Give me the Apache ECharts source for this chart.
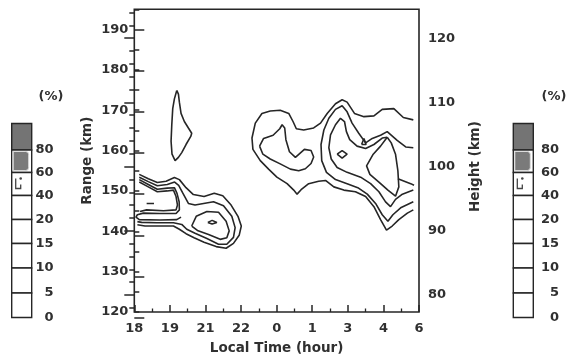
<!DOCTYPE html>
<html><head><meta charset="utf-8">
<script src="https://cdn.jsdelivr.net/npm/echarts@6/dist/echarts.min.js"></script>
<style>html,body{margin:0;padding:0;background:#fff}#c{width:574px;height:360px}</style>
</head><body><div id="c"></div>
<script>
// x values: hours after 18 LT; y values: range (km)
const xTickLabels = ['18','19','21','22','0','1','3','4','6'];
const legendLevels = ['80','60','40','20','15','10','5','0'];
const legendUnit = '(%)';

const blob19 = [[1.79,174.9],[1.69,172.8],[1.62,170.4],[1.58,166.4],[1.55,162.3],[1.59,159.1],[1.72,157.5],[1.86,158.3],[2.0,159.5],[2.18,161.5],[2.38,163.5],[2.42,164.3],[2.28,165.6],[2.11,167.2],[1.97,169.2],[1.90,172.0],[1.86,174.0],[1.79,174.9]];
const eveningOuter = [[0.21,154.1],[0.59,153.0],[0.97,152.1],[1.34,152.4],[1.69,153.3],[1.90,152.8],[2.18,150.8],[2.49,149.1],[2.94,148.6],[3.37,149.4],[3.73,148.8],[4.08,146.5],[4.37,143.7],[4.51,141.3],[4.42,139.0],[4.18,137.0],[3.87,135.8],[3.45,136.2],[2.94,137.3],[2.52,138.4],[2.18,139.4],[1.90,140.5],[1.65,141.3],[1.08,141.3],[0.45,141.3],[0.13,141.6]];
const eveningSecond = [[0.21,153.4],[0.59,152.3],[0.97,151.3],[1.39,151.6],[1.70,152.2],[1.87,151.4],[2.04,149.5],[2.28,146.9],[2.56,146.5],[3.34,147.3],[3.76,146.3],[4.11,143.7],[4.25,140.9],[4.18,138.5],[3.90,136.8],[3.55,136.8],[3.06,138.2],[2.56,139.5],[2.21,140.5],[2.00,141.7],[1.65,142.1],[0.94,142.1],[0.31,142.2],[0.13,142.4]];
const eveningHairpin = [[0.21,152.8],[0.59,151.6],[0.97,150.4],[1.39,150.7],[1.69,150.8],[1.80,149.4],[1.89,147.3],[1.90,145.3],[1.76,144.4],[1.08,144.4],[0.38,144.5],[0.13,144.1],[0.07,143.5],[0.21,142.9],[1.08,142.8],[1.79,142.9],[1.97,143.5]];
const eveningHairpinInner = [[0.21,152.2],[0.59,151.0],[0.97,149.8],[1.39,150.0],[1.65,150.2],[1.76,148.6],[1.82,146.5],[1.76,145.3],[1.23,145.1],[0.52,145.3],[0.24,144.9]];
const eveningRing = [[2.42,141.3],[2.61,143.7],[3.06,144.9],[3.55,144.7],[3.87,142.5],[4.0,140.1],[3.90,138.4],[3.62,138.0],[3.13,139.2],[2.66,140.2],[2.42,141.3]];
const eveningCore = [[3.10,142.2],[3.28,142.7],[3.48,142.2],[3.28,141.8],[3.10,142.2]];
const eveningDash = [[0.52,146.9],[0.83,146.9]];

const morningOuter = [[11.76,167.6],[11.34,168.2],[10.94,170.4],[10.45,170.2],[10.10,168.6],[9.68,168.4],[9.28,169.2],[8.97,172.0],[8.76,172.6],[8.48,171.6],[8.13,169.2],[7.85,166.8],[7.56,165.6],[7.14,165.1],[6.83,165.4],[6.69,167.2],[6.51,169.2],[6.15,170.0],[5.73,169.8],[5.38,169.2],[5.10,166.8],[4.96,163.1],[5.0,160.3],[5.31,157.5],[5.66,155.4],[6.01,153.4],[6.44,151.8],[6.72,150.2],[6.86,149.2],[7.03,150.3],[7.35,151.8],[7.77,152.4],[8.06,152.6],[8.41,151.0],[8.83,150.2],[9.32,149.8],[9.75,148.6],[10.10,146.1],[10.38,142.9],[10.63,140.3],[10.87,141.3],[11.15,142.9],[11.51,144.5],[11.76,145.3]];
const midnightInner = [[5.28,161.1],[5.45,163.0],[5.85,163.8],[6.13,165.4],[6.23,166.4],[6.34,165.6],[6.39,162.7],[6.54,159.7],[6.79,158.3],[7.17,160.3],[7.45,160.0],[7.56,158.4],[7.45,156.8],[7.21,155.5],[6.93,155.0],[6.58,155.4],[6.15,156.7],[5.73,157.9],[5.42,159.1],[5.28,161.1]];
const morningSecond = [[11.76,160.7],[11.44,160.9],[11.08,162.5],[10.66,164.7],[10.38,163.8],[10.03,163.0],[9.75,161.9],[9.46,164.3],[9.18,166.8],[8.97,169.6],[8.76,171.1],[8.48,170.2],[8.20,168.0],[7.99,165.1],[7.87,161.5],[7.90,157.5],[8.10,154.6],[8.48,152.8],[8.97,151.8],[9.42,150.8],[9.82,149.2],[10.17,146.9],[10.45,144.1],[10.69,142.5],[10.90,144.1],[11.25,145.9],[11.76,147.3]];
const morningThird = [[11.76,150.2],[11.30,149.2],[11.01,147.9],[10.80,146.1],[10.59,147.3],[10.31,149.8],[9.96,151.8],[9.54,153.4],[8.97,154.6],[8.55,155.8],[8.30,157.9],[8.20,160.7],[8.27,163.9],[8.48,166.4],[8.69,168.0],[8.86,167.2],[8.94,164.7],[9.08,162.7],[9.39,161.1],[9.75,160.5],[10.10,161.5],[10.45,163.1],[10.66,163.3]];
const morningLens = [[10.66,163.3],[10.38,161.1],[10.07,159.1],[9.79,156.2],[9.93,154.1],[10.31,152.2],[10.69,150.2],[11.01,148.7],[11.15,151.0],[11.11,155.0],[11.01,159.1],[10.83,161.9],[10.66,163.3]];
const morningLensTail = [[11.11,153.0],[11.15,152.8],[11.65,151.8],[11.79,151.4]];
const morningDiamond = [[8.55,159.1],[8.76,160.0],[8.97,159.1],[8.76,158.1],[8.55,159.1]];
const morningTriangle = [[9.58,161.5],[9.68,163.0],[9.77,161.5],[9.58,161.5]];

const contours = [blob19, eveningOuter, eveningSecond, eveningHairpin, eveningHairpinInner, eveningRing, eveningCore, eveningDash,
  morningOuter, midnightInner, morningSecond, morningThird, morningLens, morningLensTail, morningDiamond, morningTriangle];

const FONT = 'DejaVu Sans';
const INK = '#262626';
const TXT = '#303030';
const L = 134.3, R = 574 - 419, T = 9.3, B = 360 - 317.7;
const yPx = v => 317.7 - (v - 120) * 4.12;       // range axis pixel (auxiliary tick grids)
const hPx = v => 295 - (v - 80) * 6.42;          // height axis pixel (auxiliary tick grids)

const chart = echarts.init(document.getElementById('c'), null, {renderer: 'canvas'});

function legendColumn(x0, labelRight, unitCenter) {
  const bounds = [123.5, 150, 172.5, 195.5, 219.5, 243.5, 268, 293, 317.5];
  const fills = ['#747474', '#fff', '#fff', '#fff', '#fff', '#fff', '#fff', '#fff'];
  const els = [];
  for (let i = 0; i < 8; i++) {
    els.push({type: 'rect', shape: {x: x0, y: bounds[i], width: 20, height: bounds[i+1] - bounds[i]},
      style: {fill: fills[i], stroke: INK, lineWidth: 1.4}});
    els.push({type: 'text', style: {text: legendLevels[i], x: labelRight, y: bounds[i+1], align: 'right',
      verticalAlign: 'middle', font: 'bold 13px "' + FONT + '"', fill: TXT}});
  }
  els.push({type: 'rect', shape: {x: x0 + 1.5, y: bounds[1] + 1.5, width: 15.5, height: bounds[2] - bounds[1] - 3.5, r: [0, 3, 3, 0]},
    style: {fill: '#7a7a7a', stroke: '#dcdcdc', lineWidth: 1}});
  els.push({type: 'polyline', shape: {points: [[x0 + 4, bounds[2] + 6], [x0 + 4, bounds[2] + 16], [x0 + 9, bounds[2] + 16], [x0 + 9, bounds[2] + 12]]},
    style: {stroke: '#444', lineWidth: 1.3, fill: null}});
  els.push({type: 'circle', shape: {cx: x0 + 9, cy: bounds[2] + 6, r: 1.3}, style: {fill: '#444'}});
  els.push({type: 'text', style: {text: legendUnit, x: unitCenter, y: 97, align: 'center', verticalAlign: 'middle',
    font: 'bold 13px "' + FONT + '"', fill: TXT}});
  return els;
}

const hiddenX = i => ({gridIndex: i, type: 'value', min: 0, max: 1, show: false});
const lbl = {color: TXT, fontSize: 13, fontWeight: 'bold', fontFamily: FONT};
const nm = {color: TXT, fontSize: 13.5, fontWeight: 'bold', fontFamily: FONT};

chart.setOption({
  animation: false,
  backgroundColor: '#fff',
  textStyle: {fontFamily: FONT},
  grid: [
    {left: L, right: R, top: T, bottom: B, show: true, borderColor: INK, borderWidth: 1.6, backgroundColor: 'transparent'},
    {left: L, right: R, top: yPx(190), bottom: B, show: false},
    {left: L, right: R, top: hPx(124), bottom: 360 - hPx(78), show: false},
    {left: L, right: R, top: hPx(120), bottom: 360 - hPx(80), show: false}
  ],
  xAxis: [
    {gridIndex: 0, type: 'value', min: 0, max: 12, interval: 1.5,
      axisLine: {show: false}, splitLine: {show: false},
      axisTick: {inside: true, length: 7, lineStyle: {color: INK, width: 1.5}},
      minorTick: {show: true, splitNumber: 2, length: 3.5, lineStyle: {color: INK, width: 1.3}},
      axisLabel: Object.assign({margin: 10, formatter: v => xTickLabels[Math.round(v / 1.5)]}, lbl),
      name: 'Local Time (hour)', nameLocation: 'middle', nameGap: 29, nameTextStyle: nm},
    hiddenX(1), hiddenX(2), hiddenX(3)
  ],
  yAxis: [
    {gridIndex: 0, type: 'value', min: 120, max: 195, interval: 5, position: 'left',
      axisLine: {show: false}, splitLine: {show: false},
      axisTick: {inside: true, length: 5, lineStyle: {color: INK, width: 1.5}},
      axisLabel: Object.assign({margin: 6, formatter: v => (v % 10 === 0 ? String(v) : '')}, lbl),
      name: 'Range (km)', nameLocation: 'middle', nameRotate: 90, nameGap: 40, nameTextStyle: nm},
    {gridIndex: 1, type: 'value', min: 120, max: 190, interval: 10, position: 'left',
      axisLine: {show: false}, splitLine: {show: false}, axisLabel: {show: false},
      axisTick: {inside: true, length: 10, lineStyle: {color: INK, width: 1.5}}},
    {gridIndex: 2, type: 'value', min: 78, max: 124, interval: 2, position: 'right',
      axisLine: {show: false}, splitLine: {show: false}, axisLabel: {show: false},
      axisTick: {inside: true, length: 5, lineStyle: {color: INK, width: 1.5}}},
    {gridIndex: 3, type: 'value', min: 80, max: 120, interval: 10, position: 'right',
      axisLine: {show: false}, splitLine: {show: false},
      axisTick: {inside: true, length: 10, lineStyle: {color: INK, width: 1.5}},
      axisLabel: Object.assign({margin: 9}, lbl),
      name: 'Height (km)', nameLocation: 'middle', nameRotate: 90, nameGap: 49, nameTextStyle: nm}
  ],
  series: contours.map(c => ({
    type: 'line', xAxisIndex: 0, yAxisIndex: 0, data: c, showSymbol: false, symbol: 'none',
    silent: true, smooth: false, lineStyle: {color: INK, width: 1.6}
  })),
  graphic: legendColumn(11.7, 53.5, 51).concat(legendColumn(513.3, 559, 554))
});
</script></body></html>
